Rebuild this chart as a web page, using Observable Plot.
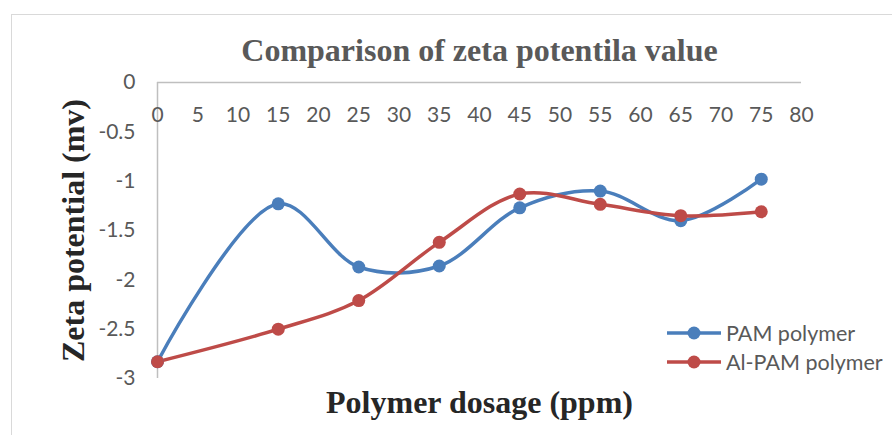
<!DOCTYPE html>
<html>
<head>
<meta charset="utf-8">
<script src="https://cdn.jsdelivr.net/npm/d3@7"></script>
<script src="https://cdn.jsdelivr.net/npm/@observablehq/plot@0.6"></script>
<style>
  body { margin: 0; background: #fff; }
  #wrap { position: relative; width: 892px; height: 435px; overflow: hidden; background: #fff; }
  #wrap svg { position: absolute; left: 0; top: 0; }
  #border { position: absolute; left: 11px; top: 14px; width: 900px; height: 440px; border: 1px solid #d9d9d9; pointer-events: none; }
  #legend { position: absolute; left: 667px; top: 318px; font-family: Lato, sans-serif; font-size: 21.5px; color: #595959; }
  #legend .row { display: flex; align-items: center; height: 29px; }
  #legend svg { position: static; margin-right: 5px; }
</style>
</head>
<body>
<div id="wrap">
  <div id="chart"></div>
  <div id="border"></div>
  <div id="legend"></div>
</div>
<script>
// ---- data ----
const doses = [0, 15, 25, 35, 45, 55, 65, 75];
const pamValues = [-2.83, -1.23, -1.87, -1.86, -1.27, -1.10, -1.40, -0.98];
const alPamValues = [-2.83, -2.50, -2.21, -1.62, -1.13, -1.235, -1.35, -1.31];
const seriesNames = ["PAM polymer", "Al-PAM polymer"];
const seriesColors = ["#4a7ebb", "#be4b48"];
const xTicks = [0, 5, 10, 15, 20, 25, 30, 35, 40, 45, 50, 55, 60, 65, 70, 75, 80];
const yTicks = [0, -0.5, -1, -1.5, -2, -2.5, -3];
const titleText = "Comparison of zeta potentila value";
const xLabel = "Polymer dosage (ppm)";
const yLabel = "Zeta potential (mv)";

const rows = [];
doses.forEach((d, i) => rows.push({series: seriesNames[0], dose: d, value: pamValues[i]}));
doses.forEach((d, i) => rows.push({series: seriesNames[1], dose: d, value: alPamValues[i]}));

const serif = "'Liberation Serif', 'Times New Roman', serif";

const chart = Plot.plot({
  width: 892,
  height: 435,
  marginLeft: 157,
  marginRight: 91,
  marginTop: 82,
  marginBottom: 57,
  style: {background: "transparent", fontFamily: "Lato, sans-serif", fontSize: "21px"},
  x: {domain: [0, 80], axis: null},
  y: {domain: [-3, 0], axis: null},
  color: {domain: seriesNames, range: seriesColors},
  marks: [
    Plot.ruleY([0], {stroke: "#bfbfbf", strokeWidth: 1.5}),
    Plot.ruleX([0], {y1: -3, y2: 0, stroke: "#bfbfbf", strokeWidth: 1.5}),
    Plot.text(yTicks, {y: d => d, text: d => String(d), frameAnchor: "left", textAnchor: "end", lineAnchor: "middle", dx: -22, fill: "#595959", fontSize: 21}),
    Plot.text(xTicks, {x: d => d, text: d => String(d), frameAnchor: "top", textAnchor: "middle", lineAnchor: "middle", dy: 33, fill: "#595959", fontSize: 21}),
    Plot.line(rows, {x: "dose", y: "value", z: "series", stroke: "series", strokeWidth: 3.5, curve: "catmull-rom"}),
    Plot.dot(rows, {x: "dose", y: "value", fill: "series", r: 6.5}),
    Plot.text([titleText], {frameAnchor: "top", textAnchor: "middle", lineAnchor: "middle", dy: -32, fontFamily: serif, fontWeight: "bold", fontSize: 32, fill: "#595959"}),
    Plot.text([xLabel], {frameAnchor: "bottom", textAnchor: "middle", lineAnchor: "middle", dy: 24, fontFamily: serif, fontWeight: "bold", fontSize: 32, fill: "#262626"}),
    Plot.text([yLabel], {frameAnchor: "left", textAnchor: "middle", lineAnchor: "middle", dx: -84, rotate: -90, fontFamily: serif, fontWeight: "bold", fontSize: 32, fill: "#262626"})
  ]
});
document.getElementById("chart").appendChild(chart);

// legend
const legend = document.getElementById("legend");
seriesNames.forEach((name, i) => {
  const row = document.createElement("div");
  row.className = "row";
  row.innerHTML = `<svg width="54" height="16"><line x1="0" y1="8" x2="54" y2="8" stroke="${seriesColors[i]}" stroke-width="3.5"/><circle cx="27" cy="8" r="6.5" fill="${seriesColors[i]}"/></svg><span>${name}</span>`;
  legend.appendChild(row);
});
</script>
</body>
</html>
